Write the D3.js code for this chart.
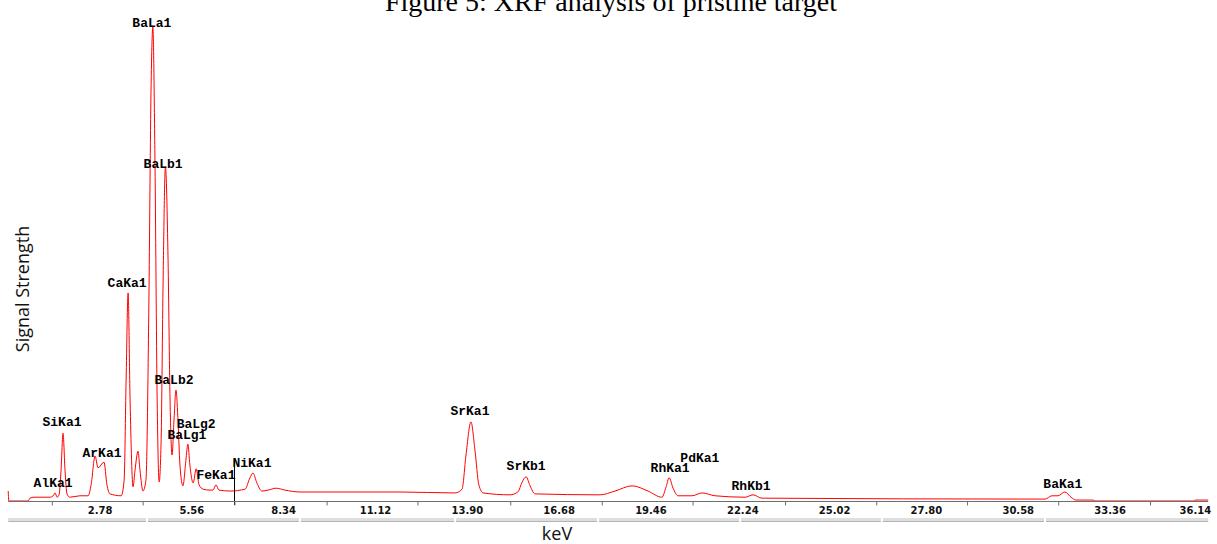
<!DOCTYPE html>
<html>
<head>
<meta charset="utf-8">
<title>XRF analysis of pristine target</title>
<script src="https://cdn.jsdelivr.net/npm/d3@7"></script>
<style>
	html, body { margin: 0; padding: 0; background: #fff; overflow: hidden; }
	#chart { width: 1217px; height: 544px; }
</style>
</head>
<body>
<div id="chart"></div>
<script>
console.log("XRF spectrum: pristine target");

//spectrum, energy in keV, signal in % of the BaLa1 peak
const energy = [0.00, 0.02, 0.60, 0.66, 0.78, 1.27, 1.36, 1.42, 1.48, 1.54,
	1.60, 1.66, 1.72, 1.78, 1.87, 2.17, 2.42, 2.51, 2.63, 2.72,
	2.90, 2.99, 3.08, 3.42, 3.51, 3.57, 3.63, 3.69, 3.78, 3.84,
	3.93, 3.99, 4.08, 4.17, 4.26, 4.32, 4.38, 4.44, 4.51, 4.57,
	4.63, 4.69, 4.76, 4.84, 4.90, 4.96, 5.02, 5.08, 5.14, 5.20,
	5.29, 5.38, 5.44, 5.50, 5.60, 5.69, 5.78, 5.90, 6.11, 6.20,
	6.29, 6.38, 6.72, 7.17, 7.32, 7.41, 7.53, 7.68, 7.87, 8.11,
	8.38, 8.83, 11.86, 13.53, 13.74, 13.86, 14.01, 14.13, 14.25, 14.38,
	15.19, 15.43, 15.56, 15.68, 15.80, 15.95, 17.92, 18.37, 18.89, 19.37,
	19.79, 19.92, 20.01, 20.13, 20.28, 20.70, 21.01, 21.40, 22.31, 22.55,
	22.82, 31.39, 31.60, 31.78, 31.99, 32.18, 32.33, 32.84, 32.90, 35.90,
	35.93, 36.33];
const signal = [2.1, 0, 0, 0.6, 0.8, 0.8, 1.1, 1.7, 0.8, 1.3,
	6.5, 14.3, 6.5, 1.5, 0.8, 1.1, 1.1, 3.4, 9.5, 7.0,
	8.2, 3.4, 1.5, 1.1, 4.4, 25.5, 43.9, 21.3, 3.0, 6.5,
	10.5, 6.5, 2.1, 4.4, 42.4, 84.6, 100, 74.1, 21.3, 4.0,
	12.9, 46.6, 70.5, 50.8, 21.3, 9.7, 17.1, 23.4, 17.1, 7.6,
	3.2, 8.6, 12.0, 7.6, 3.8, 6.8, 3.4, 2.5, 2.3, 2.3,
	3.4, 2.3, 2.1, 2.5, 4.9, 5.9, 3.8, 2.1, 2.3, 2.7,
	2.3, 1.9, 1.9, 1.7, 2.5, 9.7, 16.7, 10.8, 3.4, 1.7,
	1.3, 1.9, 4.0, 5.1, 3.2, 1.5, 1.3, 2.1, 3.2, 2.1,
	0.8, 3.0, 4.9, 2.7, 1.1, 1.1, 1.7, 1.1, 0.8, 1.3,
	0.6, 0.4, 1.1, 1.1, 1.9, 0.8, 0.2, 0.2, 0, 0,
	0.2, 0.2];

//peak identifications: name, energy of label centre, label height
const peakNames = ['AlKa1', 'SiKa1', 'ArKa1', 'CaKa1', 'BaLa1', 'BaLb1', 'BaLb2', 'BaLg2', 'BaLg1',
	'FeKa1', 'NiKa1', 'SrKa1', 'SrKb1', 'RhKa1', 'PdKa1', 'RhKb1', 'BaKa1'];
const peakEnergy = [1.36, 1.63, 2.84, 3.60, 4.35, 4.69, 5.02, 5.69, 5.41,
	6.29, 7.38, 13.98, 15.68, 20.04, 20.94, 22.49, 31.93];
const peakLevel = [2.9, 15.8, 9.3, 45.1, 100, 70.3, 24.7, 15.4, 13.1,
	4.6, 7.2, 18.1, 6.5, 6.1, 8.2, 2.3, 2.7];

//axis
const tickLabels = ['2.78', '5.56', '8.34', '11.12', '13.90', '16.68', '19.46',
	'22.24', '25.02', '27.80', '30.58', '33.36', '36.14'];
const tickEnergy = [1.32, 4.07, 6.85, 9.64, 12.39, 15.20, 17.97,
	20.72, 23.52, 26.28, 29.03, 31.79, 34.57];
const axisRange = [0, 36.33];
const rulerBreaks = [4.20, 8.83, 13.53, 17.86, 22.16, 26.45, 31.39];
const cursorEnergy = 6.85;
const cursorLevel = 8.6;

renderSpectrum(document.getElementById('chart'));

function renderSpectrum(dom){

	const w = dom.clientWidth;
	const h = dom.clientHeight;
	const plot = d3.select(dom).append('svg')
		.attr('width', w)
		.attr('height', h);

	const axisY = 501;

	const x = d3.scaleLinear()
		.domain(axisRange)
		.range([8.2, 8.2 + 33.03 * axisRange[1]]);
	const y = d3.scaleLinear()
		.domain([0, 100])
		.range([axisY, 27]);

	//title, cut at the top edge like the figure
	plot.append('text')
		.attr('x', 611)
		.attr('y', 11)
		.attr('text-anchor', 'middle')
		.style('font-family', '"Liberation Serif", serif')
		.style('font-size', '28px')
		.text('Figure 5: XRF analysis of pristine target');

	//spectrum
	const points = energy.map(function(e, i){ return [e, signal[i]]; });
	const line = d3.line()
		.x(function(d){ return x(d[0]); })
		.y(function(d){ return y(d[1]); })
		.curve(d3.curveMonotoneX);

	plot.append('path')
		.datum(points)
		.attr('d', line)
		.style('fill', 'none')
		.style('stroke', '#ff0000')
		.style('stroke-width', '1px');

	//cursor marker
	plot.append('line')
		.attr('x1', Math.round(x(cursorEnergy)) + 0.5)
		.attr('x2', Math.round(x(cursorEnergy)) + 0.5)
		.attr('y1', y(cursorLevel))
		.attr('y2', axisY + 4)
		.style('stroke', '#000')
		.style('stroke-width', '1px');

	//x axis: ticks sit between the labels
	const ticks = d3.axisBottom(x)
		.tickValues(tickEnergy)
		.tickSize(4)
		.tickSizeOuter(0)
		.tickFormat('');

	const gTicks = plot.append('g')
		.attr('transform', `translate(0,${axisY + 0.5})`)
		.call(ticks);
	gTicks.select('.domain').remove();
	gTicks.selectAll('line').style('stroke', '#6e6e6e');

	plot.append('line')
		.attr('x1', x(axisRange[0]))
		.attr('x2', x(axisRange[1]))
		.attr('y1', axisY + 0.5)
		.attr('y2', axisY + 0.5)
		.style('stroke', '#6e6e6e')
		.style('stroke-width', '1px');

	const labels = plot.append('g')
		.selectAll('text')
		.data(tickLabels)
		.enter()
		.append('text')
		.attr('x', function(d){ return x(+d); })
		.attr('y', axisY + 13)
		.attr('text-anchor', 'middle')
		.style('font-family', '"DejaVu Sans", sans-serif')
		.style('font-weight', 'bold')
		.style('font-size', '10px')
		.style('fill', '#111')
		.text(function(d){ return d; });

	//keep the last label inside the axis
	labels.each(function(d){
		const half = this.getComputedTextLength() / 2;
		const right = x(axisRange[1]) + 3;
		if (x(+d) + half > right) d3.select(this).attr('x', right - half);
	});

	//ruler bar under the axis
	const edges = [axisRange[0]].concat(rulerBreaks, [axisRange[1]]);
	const segments = d3.pairs(edges);
	const ruler = plot.append('g');
	ruler.selectAll('rect')
		.data(segments)
		.enter()
		.append('rect')
		.attr('x', function(d, i){ return x(d[0]) + (i ? 1 : 0); })
		.attr('width', function(d, i){ return x(d[1]) - x(d[0]) - (i ? 1 : 0) - (i < segments.length - 1 ? 1 : 0); })
		.attr('y', axisY + 17)
		.attr('height', 3)
		.style('fill', '#dedede');
	ruler.selectAll('line')
		.data(segments)
		.enter()
		.append('line')
		.attr('x1', function(d, i){ return x(d[0]) + (i ? 1 : 0); })
		.attr('x2', function(d, i){ return x(d[1]) - (i < segments.length - 1 ? 1 : 0); })
		.attr('y1', axisY + 20.5)
		.attr('y2', axisY + 20.5)
		.style('stroke', '#b4b4b4')
		.style('stroke-width', '1px');

	//axis titles
	plot.append('text')
		.attr('x', 557)
		.attr('y', 540)
		.attr('text-anchor', 'middle')
		.style('font-family', '"Open Sans", sans-serif')
		.style('font-size', '18px')
		.style('fill', '#111')
		.text('keV');

	plot.append('text')
		.attr('transform', 'translate(29,289) rotate(-90)')
		.attr('text-anchor', 'middle')
		.style('font-family', '"Open Sans", sans-serif')
		.style('font-size', '18px')
		.style('fill', '#111')
		.text('Signal Strength');

	//peak labels
	plot.append('g')
		.selectAll('text')
		.data(peakNames)
		.enter()
		.append('text')
		.attr('x', function(d, i){ return x(peakEnergy[i]); })
		.attr('y', function(d, i){ return y(peakLevel[i]); })
		.attr('text-anchor', 'middle')
		.style('font-family', '"Liberation Mono", monospace')
		.style('font-weight', 'bold')
		.style('font-size', '13px')
		.style('fill', '#000')
		.text(function(d){ return d; });
}
</script>
</body>
</html>
